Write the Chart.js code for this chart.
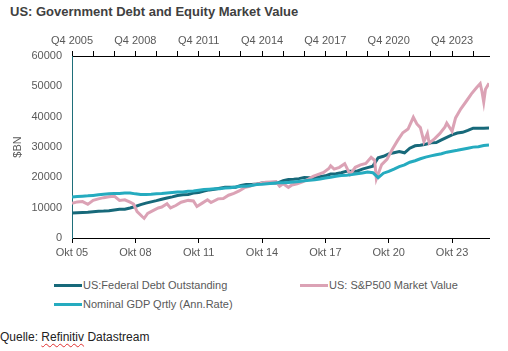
<!DOCTYPE html>
<html lang="de">
<head>
    <meta charset="UTF-8">
    <title>US: Government Debt and Equity Market Value</title>
    <script src="https://cdn.jsdelivr.net/npm/chart.js"></script>
    <style>
        body {
            margin: 0;
            width: 508px;
            height: 351px;
            background: #fff;
            font-family: "Liberation Sans", Arial, sans-serif;
            position: relative;
            overflow: hidden;
        }
        #title {
            position: absolute;
            left: 10px;
            top: 4px;
            font-size: 13px;
            font-weight: bold;
            color: #404040;
        }
        #chartBox {
            position: absolute;
            left: 0;
            top: 0;
            width: 508px;
            height: 270px;
        }
        .legendItem {
            position: absolute;
            font-size: 11px;
            color: #595959;
            line-height: 14px;
        }
        .legendItem span.swatch {
            display: inline-block;
            width: 28px;
            height: 3px;
            vertical-align: middle;
            margin-right: 1px;
            position: relative;
            top: -1px;
        }
        #source {
            position: absolute;
            left: 0;
            top: 330px;
            font-size: 12px;
            color: #222;
        }
        #source .spell {
            text-decoration: underline wavy #e03030;
            text-decoration-thickness: 1px;
            text-underline-offset: 2px;
        }
    </style>
</head>
<body>
    <div id="title">US: Government Debt and Equity Market Value</div>
    <div id="chartBox">
        <canvas id="debtChart" width="508" height="270"></canvas>
    </div>
    <div id="legend"></div>
    <div id="source">Quelle: <span class="spell">Refinitiv</span> Datastream</div>

    <script>
        // quarterly series, first quarter Q4 2005 (Oct 2005), one value per quarter
        const quarterStart = '2005-10';
        const debtValues = [
            8200, 8350, 8420, 8500, 8680, 8850, 8870, 9000, 9230, 9440, 9490, 9900,
            10400, 11000, 11500, 11900, 12310, 12770, 13200, 13560, 14030, 14270, 14340, 14790,
            15020, 15500, 15860, 16070, 16430, 16770, 16740, 16740, 17350, 17600, 17630, 17820,
            18140, 18150, 18150, 18150, 18920, 19260, 19380, 19570, 19980, 19850, 19840, 20240,
            20490, 21090, 21200, 21520, 21970, 22030, 22020, 22720, 23200, 23690, 26480, 26950,
            27750, 28130, 28530, 28100, 29620, 30400, 30570, 30930, 31420, 31460, 32330, 33170,
            34000, 34590, 34830, 35460, 36220, 36220, 36210, 36250
        ];
        const gdpValues = [
            13500, 13650, 13780, 13890, 14040, 14220, 14400, 14560, 14710, 14710, 14840, 14830,
            14550, 14380, 14340, 14400, 14560, 14650, 14840, 14980, 15140, 15190, 15380, 15530,
            15760, 15970, 16090, 16220, 16270, 16480, 16570, 16780, 17030, 17060, 17340, 17600,
            17700, 17860, 18040, 18180, 18220, 18330, 18450, 18640, 18840, 19030, 19200, 19450,
            19790, 20040, 20330, 20590, 20710, 20890, 21190, 21460, 21730, 21540, 19900, 21360,
            21990, 22740, 23550, 24100, 24990, 25460, 26130, 26670, 27070, 27450, 27800, 28300,
            28620, 28900, 29240, 29580, 29960, 30100, 30500, 30700
        ];

        // S&P500 market value, irregular monthly readings
        const spxDates = [
            '2005-10', '2006-01', '2006-04', '2006-07', '2006-10', '2007-01', '2007-04', '2007-07',
            '2007-10', '2008-01', '2008-04', '2008-07', '2008-09', '2008-11', '2009-02', '2009-03',
            '2009-05', '2009-08', '2009-11', '2010-01', '2010-04', '2010-06', '2010-09', '2010-12',
            '2011-04', '2011-07', '2011-09', '2011-12', '2012-03', '2012-05', '2012-09', '2012-12',
            '2013-03', '2013-06', '2013-09', '2013-12', '2014-03', '2014-06', '2014-09', '2014-12',
            '2015-03', '2015-06', '2015-08', '2015-10', '2016-01', '2016-03', '2016-06', '2016-09',
            '2016-12', '2017-03', '2017-06', '2017-09', '2017-12', '2018-01', '2018-03', '2018-06',
            '2018-09', '2018-12', '2019-03', '2019-06', '2019-09', '2019-12', '2020-02', '2020-03',
            '2020-06', '2020-09', '2020-12', '2021-03', '2021-06', '2021-09', '2021-12', '2022-02',
            '2022-04', '2022-06', '2022-08', '2022-09', '2022-12', '2023-03', '2023-06', '2023-07',
            '2023-10', '2023-12', '2024-03', '2024-06', '2024-09', '2024-12', '2025-02', '2025-03',
            '2025-04', '2025-05', '2025-07'
        ];
        const spxValues = [
            11400, 11900, 12000, 11100, 12400, 12900, 13300, 13600,
            13800, 12400, 12600, 11800, 11200, 8700, 7000, 6500,
            8100, 9000, 9900, 10200, 11300, 9900, 10700, 11800,
            12400, 12200, 10400, 11500, 12600, 11700, 12900, 13000,
            14100, 14700, 15500, 16600, 17000, 17700, 18000, 18400,
            18500, 18600, 17100, 17900, 16700, 17500, 17900, 18500,
            19300, 20300, 21000, 21600, 22900, 23800, 22700, 23300,
            24500, 21000, 23300, 24100, 24600, 26600, 25600, 19500,
            24200, 25900, 29200, 32100, 34700, 35900, 39800, 37600,
            36400, 31800, 34500, 31300, 32700, 34400, 36600, 37900,
            35200, 39600, 42600, 45000, 47500, 49600, 50900, 48300,
            44800, 49000, 51000
        ];

        // axis ticks
        const yTicks = [0, 10000, 20000, 30000, 40000, 50000, 60000];
        const bottomTickDates = ['2005-10', '2008-10', '2011-10', '2014-10', '2017-10', '2020-10', '2023-10'];
        const bottomTickLabels = ['Okt 05', 'Okt 08', 'Okt 11', 'Okt 14', 'Okt 17', 'Okt 20', 'Okt 23'];
        const topTickDates = [
            '2005-10', '2006-10', '2007-10', '2008-10', '2009-10', '2010-10', '2011-10',
            '2012-10', '2013-10', '2014-10', '2015-10', '2016-10', '2017-10', '2018-10',
            '2019-10', '2020-10', '2021-10', '2022-10', '2023-10', '2024-10'
        ];
        const topTickLabels = [
            'Q4 2005', '', '', 'Q4 2008', '', '', 'Q4 2011', '', '', 'Q4 2014', '', '',
            'Q4 2017', '', '', 'Q4 2020', '', '', 'Q4 2023', ''
        ];

        const seriesNames = ['US:Federal Debt Outstanding', 'US: S&P500 Market Value', 'Nominal GDP Qrtly (Ann.Rate)'];
        const seriesColors = ['#17697a', '#dba2b5', '#25abbf'];

        // "2008-10" -> 2008.75
        function toYear(s) {
            const [y, m] = s.split('-').map(Number);
            return y + (m - 1) / 12;
        }

        const startYear = toYear(quarterStart);
        const quarterly = values => values.map((v, i) => ({ x: startYear + i * 0.25, y: v }));
        const spxPoints = spxDates.map((d, i) => ({ x: toYear(d), y: spxValues[i] }));

        const xMin = startYear;
        const xMax = startYear + (debtValues.length - 1) * 0.25;

        const font = { family: '"Liberation Sans", Arial, sans-serif', size: 11 };
        const textColor = '#595959';

        function lineSet(label, data, color) {
            return {
                label: label,
                data: data,
                borderColor: color,
                backgroundColor: color,
                borderWidth: 3,
                pointRadius: 0,
                tension: 0,
                fill: false,
                xAxisID: 'x'
            };
        }

        const ctx = document.getElementById('debtChart').getContext('2d');
        const chart = new Chart(ctx, {
            type: 'line',
            data: {
                // drawn last-first, so GDP ends up on top like in the original
                datasets: [
                    lineSet(seriesNames[2], quarterly(gdpValues), seriesColors[2]),
                    lineSet(seriesNames[1], spxPoints, seriesColors[1]),
                    lineSet(seriesNames[0], quarterly(debtValues), seriesColors[0])
                ]
            },
            options: {
                responsive: false,
                animation: false,
                layout: { padding: { left: 0, right: 19, top: 0, bottom: 0 } },
                plugins: {
                    legend: { display: false },
                    tooltip: { enabled: false }
                },
                scales: {
                    x: {
                        type: 'linear',
                        position: 'bottom',
                        min: xMin,
                        max: xMax,
                        afterBuildTicks: scale => {
                            scale.ticks = bottomTickDates.map(d => ({ value: toYear(d) }));
                        },
                        afterFit: scale => { scale.height = 32; },
                        ticks: {
                            autoSkip: false,
                            maxRotation: 0,
                            padding: 3,
                            color: textColor,
                            font: font,
                            callback: (v, i) => bottomTickLabels[i]
                        },
                        grid: { drawOnChartArea: false, drawTicks: true, tickLength: 5, color: '#000' },
                        border: { display: true, color: '#000', width: 1 }
                    },
                    x2: {
                        type: 'linear',
                        position: 'top',
                        min: xMin,
                        max: xMax,
                        afterBuildTicks: scale => {
                            scale.ticks = topTickDates.map(d => ({ value: toYear(d) }));
                        },
                        afterFit: scale => { scale.height = 56; },
                        ticks: {
                            autoSkip: false,
                            maxRotation: 0,
                            padding: 3,
                            color: textColor,
                            font: font,
                            callback: (v, i) => topTickLabels[i]
                        },
                        grid: { drawOnChartArea: false, drawTicks: true, tickLength: 5, color: '#000' },
                        border: { display: true, color: '#000', width: 1 }
                    },
                    y: {
                        min: 0,
                        max: 60000,
                        afterBuildTicks: scale => {
                            scale.ticks = yTicks.map(v => ({ value: v }));
                        },
                        afterFit: scale => { scale.width = 72; },
                        ticks: {
                            padding: 10,
                            color: textColor,
                            font: font,
                            callback: v => String(v)
                        },
                        grid: { drawOnChartArea: false, drawTicks: false },
                        border: { display: true, color: '#1f6f7a', width: 1 },
                        title: {
                            display: true,
                            text: '$BN',
                            color: textColor,
                            font: font,
                            padding: { top: 11, bottom: 0 }
                        }
                    }
                }
            }
        });

        // legend laid out like the original: two columns, wrapped
        const legendPos = [
            { left: 54, top: 278 },
            { left: 300, top: 278 },
            { left: 54, top: 297 }
        ];
        const legend = document.getElementById('legend');
        seriesNames.forEach((name, i) => {
            const item = document.createElement('div');
            item.className = 'legendItem';
            item.style.left = legendPos[i].left + 'px';
            item.style.top = legendPos[i].top + 'px';
            const sw = document.createElement('span');
            sw.className = 'swatch';
            sw.style.background = seriesColors[i];
            item.appendChild(sw);
            item.appendChild(document.createTextNode(name));
            legend.appendChild(item);
        });
    </script>
</body>
</html>
